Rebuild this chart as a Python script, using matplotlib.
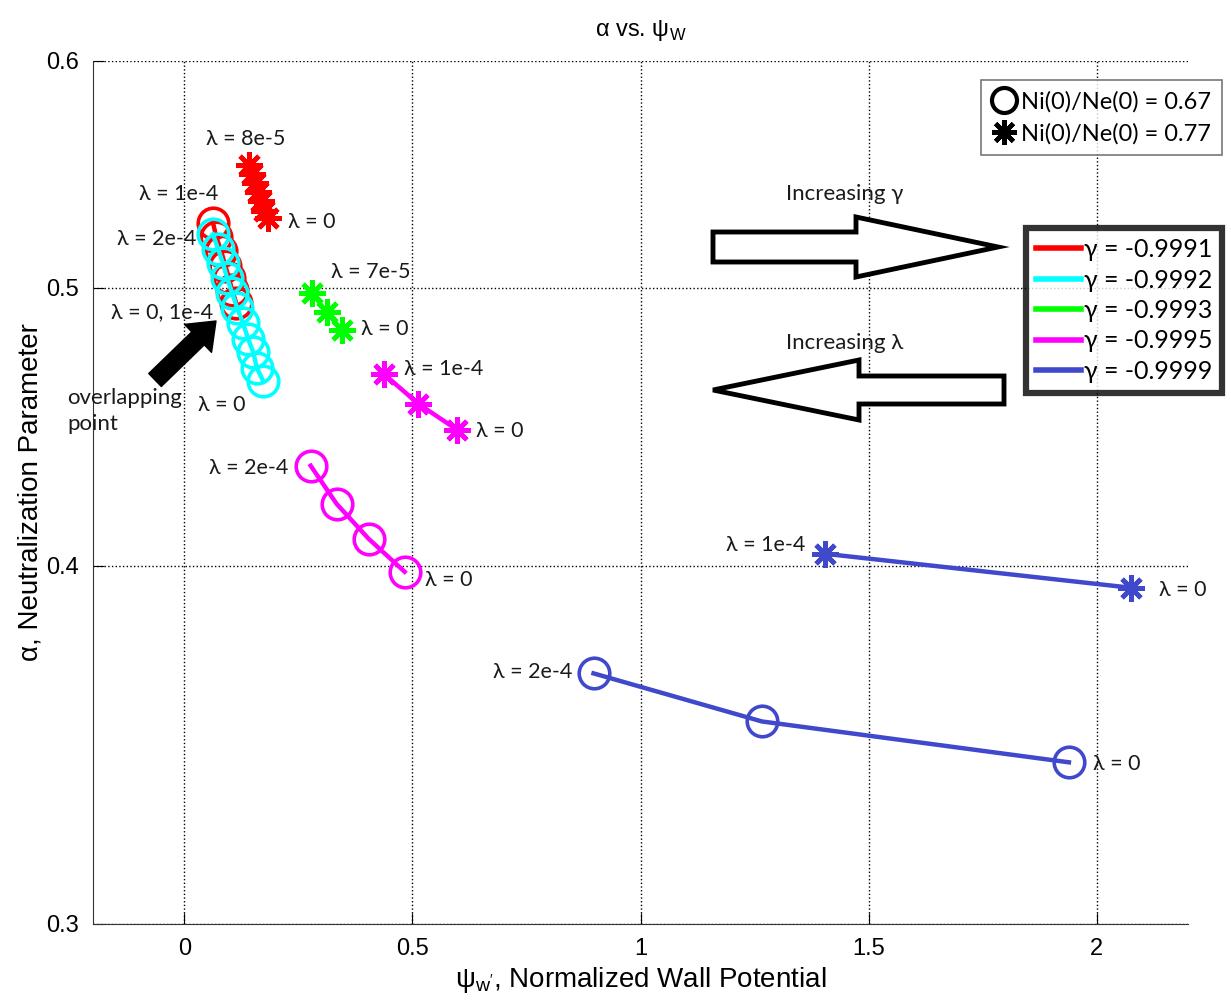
import numpy as np
import matplotlib
matplotlib.use("Agg")
import matplotlib.pyplot as plt
from matplotlib.lines import Line2D
from matplotlib.patches import FancyArrow
from matplotlib.ticker import FormatStrFormatter, NullLocator

# ---- data ----
red_circ_x=[0.063,0.070,0.081,0.090,0.098,0.105,0.114]
red_circ_y=[0.527,0.521,0.515,0.509,0.504,0.499,0.494]
cyan_circ_x=[0.063,0.074,0.085,0.094,0.105,0.116,0.129,0.140,0.151,0.159,0.173]
cyan_circ_y=[0.522,0.516,0.510,0.504,0.498,0.492,0.486,0.480,0.475,0.469,0.464]
mag_circ_x=[0.277,0.334,0.404,0.483]
mag_circ_y=[0.4335,0.4204,0.4088,0.3981]
blue_circ_x=[0.897,1.266,1.939]
blue_circ_y=[0.3669,0.3530,0.3416]

red_star_x=[0.142,0.149,0.155,0.162,0.168,0.175,0.183]
red_star_y=[0.552,0.548,0.544,0.540,0.536,0.532,0.529]
green_star_x=[0.280,0.312,0.345]
green_star_y=[0.4980,0.4904,0.4834]
mag_star_x=[0.437,0.513,0.598]
mag_star_y=[0.4667,0.4556,0.4462]
blue_star_x=[1.404,2.076]
blue_star_y=[0.4039,0.3930]

gammas=["-0.9991","-0.9992","-0.9993","-0.9995","-0.9999"]
colors=["#ff0000","#00ffff","#00ff00","#ff00ff","#4048cc"]
ratios=["0.67","0.77"]

x_ticks=[0,0.5,1,1.5,2]
y_ticks=[0.3,0.4,0.5,0.6]

W,H=1231,1002
NUM=["Liberation Sans Narrow","Liberation Sans","DejaVu Sans"]
TXT=["Lato","DejaVu Sans"]
STAR=(8,2,0)
TCOL="#1a1a1a"

fig=plt.figure(figsize=(W/100,H/100),dpi=100)
ax=fig.add_axes([93/W,1-924/H,(1188-93)/W,(924-61)/H])

circ_kw=dict(marker="o",mfc="none",ms=22,mew=2.6,lw=3.2)
star_kw=dict(marker=STAR,ms=19,mew=3.4,lw=3.2)

ax.plot(red_circ_x,red_circ_y,color=colors[0],**circ_kw)
ax.plot(cyan_circ_x,cyan_circ_y,color=colors[1],**circ_kw)
ax.plot(mag_circ_x,mag_circ_y,color=colors[3],**circ_kw)
ax.plot(blue_circ_x,blue_circ_y,color=colors[4],**circ_kw)
ax.plot(red_star_x,red_star_y,color=colors[0],**star_kw)
ax.plot(green_star_x,green_star_y,color=colors[2],**star_kw)
ax.plot(mag_star_x,mag_star_y,color=colors[3],**star_kw)
ax.plot(blue_star_x,blue_star_y,color=colors[4],**star_kw)

ax.set_yscale("log")
ax.set_xlim(-0.2,2.2)
ax.set_ylim(0.3,0.6)
ax.set_xticks(x_ticks)
ax.set_xticklabels(["0","0.5","1","1.5","2"])
ax.set_yticks(y_ticks)
ax.yaxis.set_major_formatter(FormatStrFormatter("%.1f"))
ax.yaxis.set_minor_locator(NullLocator())
ax.grid(True,which="major",ls=":",color="k",lw=1)
for s in ["top","right"]:
	ax.spines[s].set_visible(False)
for s in ["left","bottom"]:
	ax.spines[s].set_color("#333333")
ax.tick_params(direction="in",length=8,labelsize=17,pad=10)
for lab in ax.get_xticklabels()+ax.get_yticklabels():
	lab.set_family(NUM)

ax.set_title("α vs. ψ$_\\mathregular{W}$",family=NUM,fontsize=17,pad=18)
ax.set_xlabel("ψ$_\\mathregular{w'}$, Normalized Wall Potential",family=NUM,fontsize=20,labelpad=4)
ax.set_ylabel("α, Neutralization Parameter",family=NUM,fontsize=20,labelpad=2)

# lambda labels: (x list, y list, point index, text, offset px, ha)
labels=[
	(red_star_x,red_star_y,0,"λ = 8e-5",(-3,26),"center"),
	(red_star_x,red_star_y,-1,"λ = 0",(20,-4),"left"),
	(red_circ_x,red_circ_y,0,"λ = 1e-4",(-34,29),"center"),
	(cyan_circ_x,cyan_circ_y,0,"λ = 2e-4",(-17,-5),"right"),
	(red_circ_x,red_circ_y,-1,"λ = 0, 1e-4",(-23,-9),"right"),
	(cyan_circ_x,cyan_circ_y,-1,"λ = 0",(-41,-24),"center"),
	(green_star_x,green_star_y,0,"λ = 7e-5",(59,21),"center"),
	(green_star_x,green_star_y,-1,"λ = 0",(19,1),"left"),
	(mag_star_x,mag_star_y,0,"λ = 1e-4",(20,5),"left"),
	(mag_star_x,mag_star_y,-1,"λ = 0",(19,-1),"left"),
	(mag_circ_x,mag_circ_y,0,"λ = 2e-4",(-22,-2),"right"),
	(mag_circ_x,mag_circ_y,-1,"λ = 0",(20,-8),"left"),
	(blue_star_x,blue_star_y,0,"λ = 1e-4",(-19,9),"right"),
	(blue_star_x,blue_star_y,-1,"λ = 0",(28,-2),"left"),
	(blue_circ_x,blue_circ_y,0,"λ = 2e-4",(-21,1),"right"),
	(blue_circ_x,blue_circ_y,-1,"λ = 0",(24,-2),"left"),
]
for xs,ys,i,txt,off,ha in labels:
	ax.annotate(txt,xy=(xs[i],ys[i]),xytext=off,textcoords="offset pixels",
		ha=ha,va="center",fontsize=15.5,family=TXT,color=TCOL)

fig.text(67/W,1-411/H,"overlapping\npoint",ha="left",va="center",fontsize=16,
	family=TXT,linespacing=1.4,color=TCOL)
fig.text(845/W,1-194/H,"Increasing γ",ha="center",va="center",fontsize=16,family=TXT,color=TCOL)
fig.text(845/W,1-343/H,"Increasing λ",ha="center",va="center",fontsize=16,family=TXT,color=TCOL)

# hollow block arrows
def block_arrow(x0,x1,yc,body,head,hlen):
	a=FancyArrow(x0/W,1-yc/H,(x1-x0)/W,0,width=body/H,head_width=head/H,
		head_length=hlen/W,length_includes_head=True,transform=fig.transFigure,
		fc="white",ec="black",lw=3.5,joinstyle="miter")
	fig.add_artist(a)

block_arrow(713,998,247,30,60,142)
block_arrow(1004,713,390,28,60,146)

# black arrow to overlapping point
ax.annotate("",xy=(216,H-321),xycoords="figure pixels",xytext=(155,H-380),
	textcoords="figure pixels",
	arrowprops=dict(arrowstyle="simple,head_length=0.9,head_width=1.4,tail_width=0.65",
		fc="black",ec="black",mutation_scale=20,shrinkA=0,shrinkB=0))

# legends
h1=[Line2D([],[],marker="o",mfc="none",mec="k",mew=3,ms=18,ls="none"),
	Line2D([],[],marker=STAR,mec="k",mew=3.2,ms=18,ls="none")]
leg1=fig.legend(h1,[f"Ni(0)/Ne(0) = {r}" for r in ratios],loc="upper right",
	bbox_to_anchor=(1222/W,1-80/H),bbox_transform=fig.transFigure,
	prop={"family":TXT,"size":17},fancybox=False,edgecolor="#555555",
	handlelength=1.0,handletextpad=0.25,borderpad=0.45,labelspacing=0.45,borderaxespad=0)
leg1.get_frame().set_linewidth(1.2)

h2=[Line2D([],[],color=c,lw=4) for c in colors]
leg2=fig.legend(h2,[f"γ = {g}" for g in gammas],loc="upper right",
	bbox_to_anchor=(1222/W,1-228/H),bbox_transform=fig.transFigure,
	prop={"family":TXT,"size":18},fancybox=False,edgecolor="black",
	handlelength=1.8,handletextpad=0.1,borderpad=0.4,labelspacing=0.3,borderaxespad=0)
leg2.get_frame().set_linewidth(4.5)

fig.savefig("out.png",dpi=100,facecolor="white")
